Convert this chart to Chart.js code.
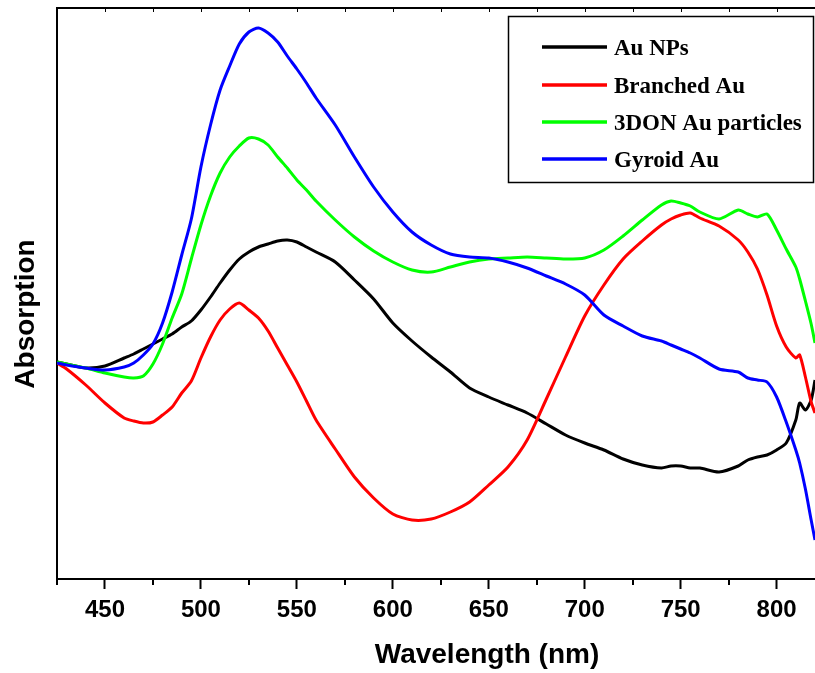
<!DOCTYPE html>
<html>
<head>
<meta charset="utf-8">
<script src="https://cdn.jsdelivr.net/npm/chart.js@4.4.1/dist/chart.umd.min.js"></script>
<style>
  html, body { margin: 0; padding: 0; background: #ffffff; }
  #wrap { position: relative; width: 815px; height: 673px; }
  canvas { display: block; }
</style>
</head>
<body>
<div id="wrap"><canvas id="c" width="815" height="673"></canvas></div>
<script>
// ---- data (absorption, arbitrary units) ----
const wavelengths = [425,430,440,450,460,465,470,475,480,485,490,495,500,505,510,515,520,525,530,535,540,545,550,555,560,570,580,590,600,610,620,630,640,650,660,670,680,690,700,710,720,730,740,745,750,755,760,770,780,785,790,795,800,805,810,812,815,818,820];

const auNPs = [2.17,2.15,2.11,2.13,2.21,2.25,2.30,2.35,2.40,2.45,
  2.52,2.58,2.69,2.82,2.96,3.09,3.20,3.27,3.32,3.35,
  3.38,3.39,3.37,3.32,3.27,3.17,2.99,2.80,2.56,2.38,
  2.22,2.07,1.91,1.82,1.74,1.66,1.55,1.44,1.36,1.29,
  1.20,1.14,1.11,1.13,1.13,1.11,1.11,1.07,1.13,1.19,
  1.22,1.24,1.29,1.36,1.59,1.76,1.69,1.79,1.99];

const branchedAu = [2.16,2.10,1.94,1.76,1.61,1.58,1.56,1.57,1.64,1.72,
  1.86,1.98,2.21,2.42,2.59,2.70,2.76,2.69,2.61,2.48,
  2.31,2.14,1.97,1.78,1.59,1.30,1.02,0.81,0.65,0.59,
  0.60,0.67,0.77,0.94,1.12,1.39,1.80,2.22,2.63,2.94,
  3.20,3.38,3.54,3.60,3.64,3.66,3.61,3.53,3.39,3.27,
  3.10,2.84,2.53,2.32,2.21,2.24,2.02,1.77,1.66];

const donAu = [2.17,2.15,2.11,2.06,2.02,2.01,2.03,2.15,2.35,2.61,
  2.85,3.20,3.54,3.83,4.06,4.22,4.33,4.41,4.40,4.34,
  4.22,4.11,3.99,3.89,3.78,3.59,3.42,3.28,3.17,3.09,
  3.07,3.12,3.17,3.20,3.21,3.22,3.21,3.20,3.21,3.29,
  3.43,3.59,3.74,3.78,3.76,3.73,3.67,3.60,3.69,3.65,
  3.62,3.65,3.49,3.30,3.12,3.00,2.78,2.55,2.36];

const gyroidAu = [2.16,2.14,2.11,2.09,2.12,2.16,2.24,2.35,2.56,2.87,
  3.24,3.60,4.12,4.54,4.89,5.13,5.35,5.47,5.51,5.46,
  5.37,5.23,5.10,4.96,4.81,4.54,4.22,3.92,3.67,3.47,
  3.34,3.25,3.22,3.21,3.17,3.11,3.03,2.95,2.84,2.64,
  2.53,2.43,2.38,2.34,2.30,2.26,2.21,2.10,2.07,2.01,
  1.99,1.97,1.82,1.57,1.29,1.16,0.90,0.59,0.39];

const seriesLabels = ['Au NPs', 'Branched Au', '3DON Au particles', 'Gyroid Au'];
const seriesColors = ['#000000', '#ff0000', '#00ff00', '#0000ff'];
const xMajorTicks = [450, 500, 550, 600, 650, 700, 750, 800];
const xMinorTicks = [425, 475, 525, 575, 625, 675, 725, 775];
const xTitle = 'Wavelength (nm)';
const yTitle = 'Absorption';

const seriesValues = [auNPs, branchedAu, donAu, gyroidAu];
const toPoints = vals => wavelengths.map((w, i) => ({ x: w, y: vals[i] }));

const SANS = '"Liberation Sans", Arial, Helvetica, sans-serif';
const SERIF = '"Liberation Serif", "Times New Roman", Times, serif';

// custom decorations: minor ticks, top frame, axis titles, legend box
const decor = {
  id: 'decor',
  afterDraw(chart) {
    const ctx = chart.ctx;
    const xs = chart.scales.x;
    const area = chart.chartArea;
    ctx.save();
    ctx.strokeStyle = '#000';
    // top frame line
    ctx.lineWidth = 2;
    ctx.beginPath();
    ctx.moveTo(area.left - 1, area.top);
    ctx.lineTo(area.right, area.top);
    ctx.stroke();
    // bottom minor ticks (outside)
    ctx.lineWidth = 2;
    xMinorTicks.forEach(v => {
      const px = Math.round(xs.getPixelForValue(v));
      ctx.beginPath();
      ctx.moveTo(px, area.bottom);
      ctx.lineTo(px, area.bottom + 6);
      ctx.stroke();
    });
    // top ticks (inside, short)
    ctx.lineWidth = 1;
    xMajorTicks.concat(xMinorTicks).forEach(v => {
      const px = Math.round(xs.getPixelForValue(v)) + 0.5;
      ctx.beginPath();
      ctx.moveTo(px, area.top);
      ctx.lineTo(px, area.top + 4);
      ctx.stroke();
    });
    // x axis title
    ctx.fillStyle = '#000';
    ctx.font = 'bold 28px ' + SANS;
    ctx.textAlign = 'center';
    ctx.textBaseline = 'middle';
    ctx.fillText(xTitle, 487, 655);
    // y axis title
    ctx.translate(26, 314);
    ctx.rotate(-Math.PI / 2);
    ctx.fillText(yTitle, 0, 0);
    ctx.restore();

    // legend
    ctx.save();
    ctx.strokeStyle = '#000';
    ctx.lineWidth = 1.5;
    ctx.strokeRect(508.5, 16.5, 305, 166);
    const rows = [47, 85, 122, 159];
    ctx.font = 'bold 23px ' + SERIF;
    ctx.textAlign = 'left';
    ctx.textBaseline = 'middle';
    seriesLabels.forEach((lab, i) => {
      ctx.strokeStyle = seriesColors[i];
      ctx.lineWidth = 3.5;
      ctx.beginPath();
      ctx.moveTo(542, rows[i]);
      ctx.lineTo(607, rows[i]);
      ctx.stroke();
      ctx.fillStyle = '#000';
      ctx.fillText(lab, 614, rows[i] + 2);
    });
    ctx.restore();
  }
};

new Chart(document.getElementById('c'), {
  type: 'line',
  data: {
    datasets: seriesLabels.map((lab, i) => ({
      label: lab,
      data: toPoints(seriesValues[i]),
      borderColor: seriesColors[i],
      backgroundColor: seriesColors[i],
      borderWidth: 3,
      pointRadius: 0,
      tension: 0.25,
      fill: false,
      order: 4 - i
    }))
  },
  options: {
    responsive: false,
    animation: false,
    devicePixelRatio: 1,
    layout: { padding: { top: 8, right: 0, left: 0, bottom: 0 } },
    plugins: {
      legend: { display: false },
      tooltip: { enabled: false }
    },
    scales: {
      x: {
        type: 'linear',
        min: 425,
        max: 820,
        afterBuildTicks: axis => { axis.ticks = xMajorTicks.map(v => ({ value: v })); },
        afterFit: axis => { axis.height = 94; },
        border: { display: true, color: '#000', width: 2 },
        grid: { display: true, drawOnChartArea: false, tickLength: 10, tickWidth: 2, tickColor: '#000' },
        ticks: {
          color: '#000',
          font: { family: SANS, size: 24, weight: 'bold' },
          padding: 7,
          maxRotation: 0,
          autoSkip: false
        },
        title: { display: false }
      },
      y: {
        type: 'linear',
        min: 0,
        max: 5.71,
        afterFit: axis => { axis.width = 57; },
        border: { display: true, color: '#000', width: 2 },
        grid: { display: false, drawOnChartArea: false, tickLength: 0 },
        ticks: { display: false }
      }
    }
  },
  plugins: [decor]
});
</script>
</body>
</html>
